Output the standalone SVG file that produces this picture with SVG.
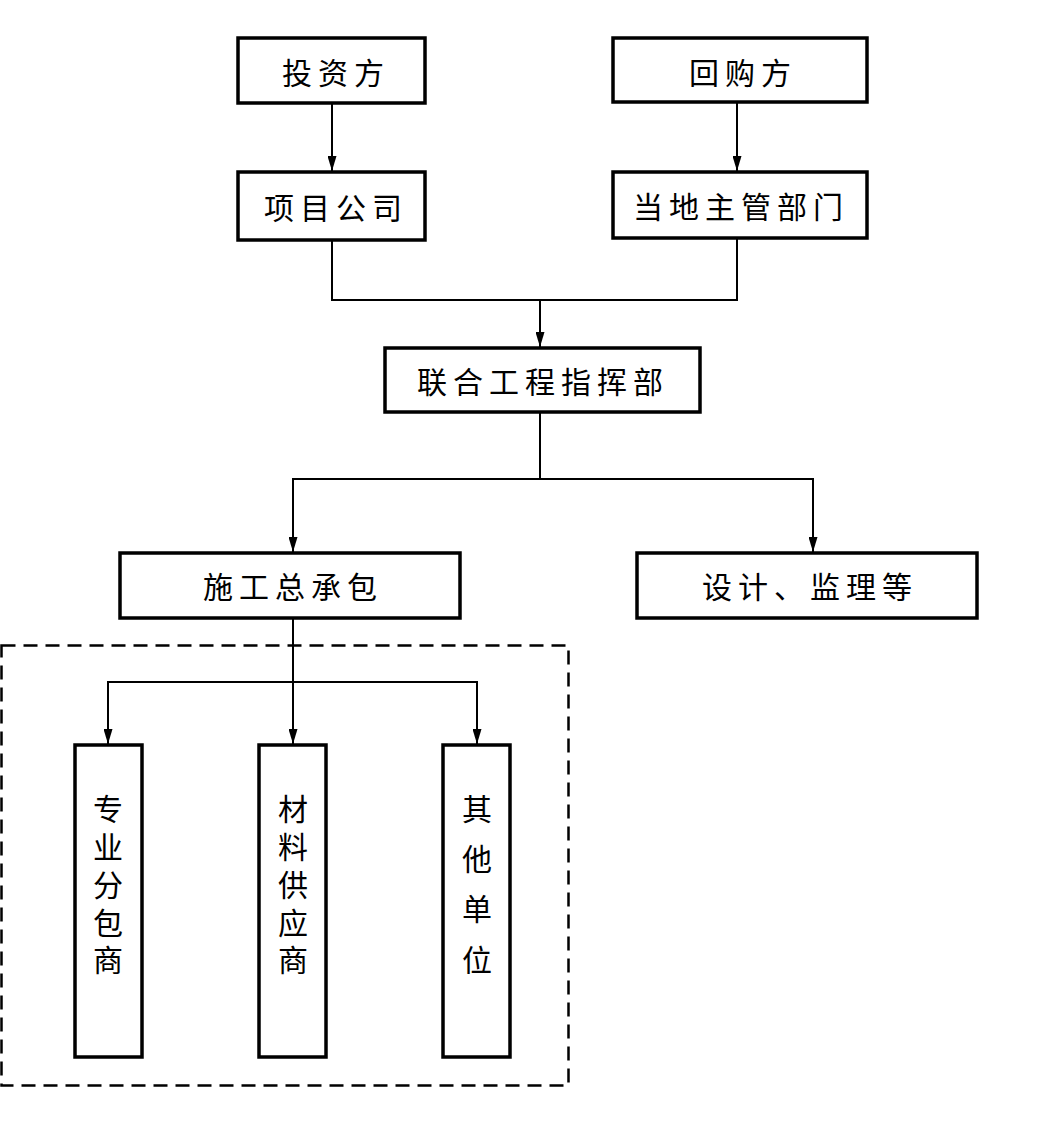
<svg xmlns="http://www.w3.org/2000/svg" width="1058" height="1122" viewBox="0 0 1058 1122">
<style>
.box{fill:#fff;stroke:#000;stroke-width:3.5}
.t{font-family:"Noto Sans CJK SC","Liberation Serif",serif;font-size:30px;fill:#000;text-anchor:middle;dominant-baseline:central}
.h{letter-spacing:6px}
.c{fill:none;stroke:#000;stroke-width:2}
.dash{fill:none;stroke:#000;stroke-width:2.5;stroke-dasharray:14 8}
</style>
<defs>
<marker id="ah" markerWidth="15" markerHeight="9" refX="15" refY="4.5" orient="auto-start-reverse" markerUnits="userSpaceOnUse" viewBox="0 0 15 9">
<path d="M0,0 L15,4.5 L0,9 Z" fill="#000"/>
</marker>
</defs>
<rect class="dash" x="1.5" y="645.5" width="567" height="440"/>
<g id="connectors">
<line class="c" x1="332" y1="103" x2="332" y2="171" marker-end="url(#ah)"/>
<line class="c" x1="737" y1="102" x2="737" y2="171" marker-end="url(#ah)"/>
<polyline class="c" points="332,240 332,300 737,300 737,238"/>
<line class="c" x1="540" y1="300" x2="540" y2="347" marker-end="url(#ah)"/>
<line class="c" x1="540" y1="412" x2="540" y2="479"/>
<polyline class="c" points="293,552 293,479 813,479 813,552" marker-start="url(#ah)" marker-end="url(#ah)"/>
<line class="c" x1="293" y1="618" x2="293" y2="744" marker-end="url(#ah)"/>
<polyline class="c" points="108,744 108,682 477,682 477,744" marker-start="url(#ah)" marker-end="url(#ah)"/>
</g>
<g id="n1"><rect class="box" x="238" y="38" width="187" height="65"/><text class="t h" x="336" y="71">投资方</text></g>
<g id="n2"><rect class="box" x="613" y="38" width="254" height="64"/><text class="t h" x="743" y="71">回购方</text></g>
<g id="n3"><rect class="box" x="238" y="172" width="187" height="68"/><text class="t h" x="336" y="206">项目公司</text></g>
<g id="n4"><rect class="box" x="613" y="172" width="254" height="66"/><text class="t h" x="741" y="205">当地主管部门</text></g>
<g id="n5"><rect class="box" x="385" y="348" width="315" height="64"/><text class="t h" x="543" y="380">联合工程指挥部</text></g>
<g id="n6"><rect class="box" x="120" y="553" width="340" height="65"/><text class="t h" x="293" y="585">施工总承包</text></g>
<g id="n7"><rect class="box" x="637" y="553" width="340" height="65"/><text class="t h" x="810" y="585">设计、监理等</text></g>
<g id="n8"><rect class="box" x="75" y="745" width="67" height="312"/><text class="t"><tspan x="108" y="807">专</tspan><tspan x="108" y="845">业</tspan><tspan x="108" y="883">分</tspan><tspan x="108" y="921">包</tspan><tspan x="108" y="958">商</tspan></text></g>
<g id="n9"><rect class="box" x="259" y="745" width="67" height="312"/><text class="t"><tspan x="293" y="807">材</tspan><tspan x="293" y="845">料</tspan><tspan x="293" y="883">供</tspan><tspan x="293" y="921">应</tspan><tspan x="293" y="958">商</tspan></text></g>
<g id="n10"><rect class="box" x="443" y="745" width="67" height="312"/><text class="t"><tspan x="477" y="807">其</tspan><tspan x="477" y="857">他</tspan><tspan x="477" y="907">单</tspan><tspan x="477" y="958">位</tspan></text></g>
</svg>
